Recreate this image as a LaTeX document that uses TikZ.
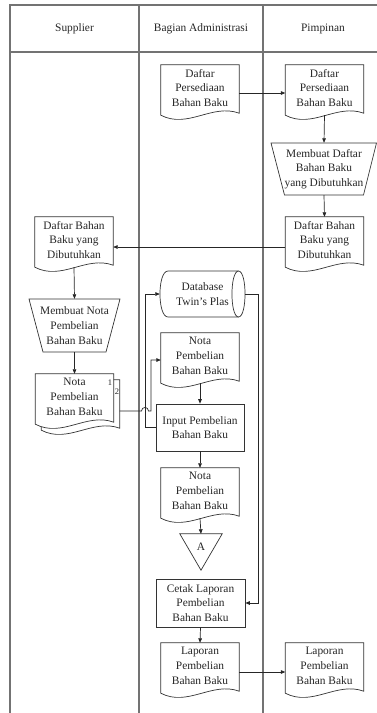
\documentclass[tikz,border=0pt]{standalone}
\usepackage{fontspec}
\setmainfont{Liberation Serif}
\usetikzlibrary{arrows.meta,calc}
\pgfdeclarelayer{bg}
\pgfsetlayers{bg,main}
\begin{document}
\begin{tikzpicture}[x=1pt,y=-1pt,
  every node/.style={font=\fontsize{11.4}{14.7}\selectfont, text=black!85, align=center, inner sep=0pt},
  frame/.style={draw=black!55, line width=1.1pt},
  shp/.style={draw=black!80, line width=0.7pt, fill=white},
  conn/.style={draw=black!85, line width=0.7pt, -{Triangle[length=4.5pt,width=3.6pt]}},
  plainline/.style={draw=black!85, line width=0.7pt},
  docbox/.style={minimum width=78pt, minimum height=46pt},
  boxnode/.style={draw=black!80, line width=0.7pt, minimum width=88pt, minimum height=47pt},
  small/.style={font=\fontsize{8.5}{10}\selectfont}]
\useasboundingbox (0,0) rectangle (377,713);

% headers
\node (hS) at (74.5,29) {Supplier};
\node (hA) at (201,29) {Bagian Administrasi};
\node (hP) at (323,29) {Pimpinan};

% documents
\node[docbox] (dAP) at (200,88) {Daftar\\Persediaan\\Bahan Baku};
\node[docbox] (dPP) at (324.5,88) {Daftar\\Persediaan\\Bahan Baku};
\node[docbox] (dPB) at (324.5,240) {Daftar Bahan\\Baku yang\\Dibutuhkan};
\node[docbox] (dSB) at (74,240) {Daftar Bahan\\Baku yang\\Dibutuhkan};
\node[docbox] (nota1) at (200,356) {Nota\\Pembelian\\Bahan Baku};
\node[docbox] (nota2) at (200,491) {Nota\\Pembelian\\Bahan Baku};
\node[docbox] (lapA) at (200,666) {Laporan\\Pembelian\\Bahan Baku};
\node[docbox] (lapP) at (324.5,666) {Laporan\\Pembelian\\Bahan Baku};
\node[docbox] (fm2) at (80.5,403) {};
\node[docbox] (fm) at (74.5,397) {Nota\\Pembelian\\Bahan Baku};
\node[small] (lab1) at (110,383) {1};
\node[small] (lab2) at (117,392) {2};

% manual operations (trapezoids)
\node[minimum width=79pt, minimum height=52pt] (tP) at (324,169) {Membuat Daftar\\Bahan Baku\\yang Dibutuhkan};
\node[minimum width=63pt, minimum height=53pt] (tS) at (74.5,325.5) {Membuat Nota\\Pembelian\\Bahan Baku};

% database
\node[minimum width=85pt, minimum height=46pt] (db) at (202.5,294) {Database\\Twin's Plas};

% processes
\node[boxnode] (inp) at (200,427.5) {Input Pembelian\\Bahan Baku};
\node[boxnode, minimum width=89pt, minimum height=48pt] (cetak) at (200.5,603) {Cetak Laporan\\Pembelian\\Bahan Baku};

% off-page connector
\node[minimum width=42pt, minimum height=26pt] (tri) at (201,547) {A};

% helper coordinates
\coordinate (colL) at (145,0);
\coordinate (colR) at (258,0);
\coordinate (hopC) at (145,411);
\coordinate (bendA) at (151,411);

\begin{pgfonlayer}{bg}
  % frame
  \draw[frame] (10,713) -- (10,5) -- (377,5);
  \draw[frame] (10,52) -- (377,52);
  \draw[frame] (139,5) -- (139,713);
  \draw[frame] (263,5) -- (263,713);
  % document outlines
  \foreach \n in {dAP,dPP,dPB,dSB,nota1,nota2,lapA,lapP,fm2,fm}{
    \draw[shp] (\n.north west) -- (\n.north east) -- ([yshift=-2pt]\n.south east)
      .. controls ([xshift=-27pt,yshift=8pt]\n.south east) and ([xshift=27pt,yshift=-18pt]\n.south west)
      .. ([yshift=-4pt]\n.south west) -- cycle;
  }
  % trapezoids
  \draw[shp] (271,143) -- (376.5,143) -- (363.5,195) -- (284.5,195) -- cycle;
  \draw[shp] (29,299) -- (120,299) -- (106,352) -- (43,352) -- cycle;
  % database
  \draw[shp] (168,271) -- (238.5,271) .. controls (247.2,271) and (247.2,317) .. (238.5,317)
    -- (168,317) .. controls (157.3,317) and (157.3,271) .. (168,271) -- cycle;
  \draw[shp, fill=none] (238.5,271) .. controls (229.8,271) and (229.8,317) .. (238.5,317);
  % triangle
  \draw[shp] (tri.north west) -- (tri.north east) -- ([yshift=-10pt]tri.south) -- cycle;
\end{pgfonlayer}

% connectors
\draw[conn] ([yshift=-5pt]dAP.east) -- ([yshift=-5pt]dPP.west);
\draw[conn] ([yshift=-4pt]dPP.south) -- (tP.north);
\draw[conn] (tP.south) -- (dPB.north);
\draw[conn] ([yshift=-7pt]dPB.west) -- ([yshift=-7pt]dSB.east);
\draw[conn] ([yshift=-4pt]dSB.south) -- (tS.north);
\draw[conn] (tS.south) -- (fm.north);
\draw[conn] ([yshift=-8pt]fm2.east) -- ([xshift=-3.5pt]hopC)
  .. controls ([xshift=-3.5pt,yshift=4.7pt]hopC) and ([xshift=3.5pt,yshift=4.7pt]hopC) .. ([xshift=3.5pt]hopC)
  -- (bendA) |- ([yshift=-4pt]nota1.west);
\draw[conn] ([yshift=-4pt]nota1.south) -- (inp.north);
\draw[conn] (inp.west) -- (inp.west -| colL) |- (db.west);
\draw[conn] (inp.south) -- (nota2.north);
\draw[conn] ([yshift=-4pt]nota2.south) -- (tri.north);
\draw[conn] (db.east) -- (db.east -| colR) |- (cetak.east);
\draw[conn] (cetak.south) -- (lapA.north);
\draw[conn] ([yshift=-6pt]lapA.east) -- ([yshift=-6pt]lapP.west);
\end{tikzpicture}
\end{document}
